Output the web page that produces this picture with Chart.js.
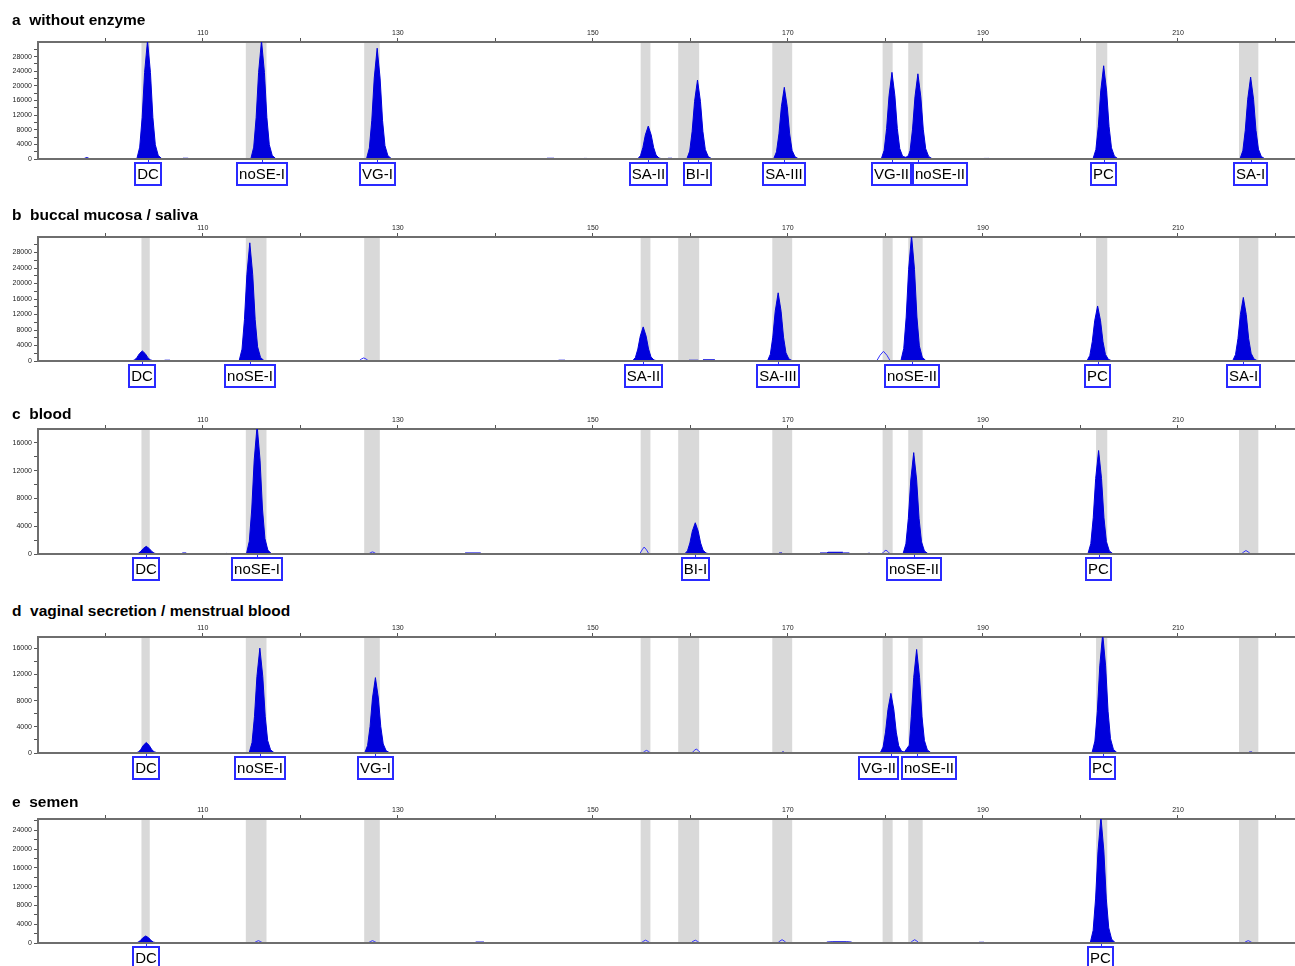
<!DOCTYPE html>
<html>
<head>
<meta charset="utf-8">
<script src="https://cdn.jsdelivr.net/npm/chart.js@4.4.1/dist/chart.umd.min.js"></script>
<style>
  html, body { margin: 0; padding: 0; background: #fff; }
  body { width: 1295px; height: 966px; position: relative; overflow: hidden; font-family: Arial, "Liberation Sans", sans-serif; }
  .ttl { position: absolute; left: 12px; font-weight: bold; font-size: 15.5px; line-height: 18px; color: #000; white-space: pre; z-index: 2; }
  canvas { position: absolute; left: 0; }
</style>
</head>
<body>
<script>
// size axis (bp) and panel data
const xMin = 93.1, xMax = 222;
const xTickMarks = [100, 110, 120, 130, 140, 150, 160, 170, 180, 190, 200, 210, 220];
const xTickLabels = [110, 130, 150, 170, 190, 210];
const panelTitles = ['a  without enzyme', 'b  buccal mucosa / saliva', 'c  blood', 'd  vaginal secretion / menstrual blood', 'e  semen'];
const yMax = [32000, 32000, 18000, 17700, 26400];
const yMinorStep = 2000, yLabelStep = 4000;

// marker bins (grey bands)
const binStart = [103.71, 114.41, 126.55, 154.9, 158.75, 168.4, 179.71, 182.34, 201.6, 216.26];
const binEnd   = [104.56, 116.53, 128.15, 155.9, 160.9, 170.44, 180.74, 183.82, 202.75, 218.24];

// traces: [size, RFU]
const traceA = [
  [93.1,0],
  [97.7,0],[98.1,400],[98.5,0],
  [103.23,0],[103.53,3240],[103.78,11340],[104.03,23650],[104.33,32400],[104.63,23650],[104.88,11340],[105.13,3890],[105.43,970],[105.83,0],
  [107.9,0],[108.0,200],[108.5,200],[108.6,0],
  [114.92,0],[115.22,3240],[115.47,11340],[115.72,23650],[116.02,32400],[116.32,23650],[116.57,11340],[116.82,3890],[117.12,970],[117.52,0],
  [126.78,0],[127.08,3030],[127.33,10600],[127.58,22120],[127.88,30300],[128.18,22120],[128.43,10600],[128.68,3640],[128.98,910],[129.38,0],
  [145.2,0],[145.3,200],[146.0,200],[146.1,0],
  [149.0,0],[149.1,150],[149.4,150],[149.5,0],
  [154.58,0],[154.88,900],[155.13,3150],[155.38,6570],[155.68,9000],[155.98,6570],[156.23,3150],[156.48,1080],[156.78,270],[157.18,0],
  [157.6,0],[157.7,200],[158.1,200],[158.2,0],
  [159.63,0],[159.93,2160],[160.18,7560],[160.43,15770],[160.73,21600],[161.03,15770],[161.28,7560],[161.53,2590],[161.83,650],[162.23,0],
  [168.53,0],[168.83,1960],[169.08,6860],[169.33,14310],[169.63,19600],[169.93,14310],[170.18,6860],[170.43,2350],[170.73,590],[171.13,0],
  [179.57,0],[179.87,2370],[180.12,8300],[180.37,17300],[180.67,23700],[180.97,17300],[181.22,8300],[181.47,2840],[181.77,710],[182.1,450],
  [182.35,900],[182.53,2330],[182.78,8160],[183.03,17010],[183.33,23300],[183.63,17010],[183.88,8160],[184.13,2800],[184.43,700],[184.83,0],
  [190.0,0],[190.1,150],[190.6,150],[190.7,0],
  [201.28,0],[201.58,2550],[201.83,8930],[202.08,18620],[202.38,25500],[202.68,18620],[202.93,8930],[203.18,3060],[203.48,770],[203.88,0],
  [216.35,0],[216.65,2240],[216.9,7840],[217.15,16350],[217.45,22400],[217.75,16350],[218.0,7840],[218.25,2690],[218.55,670],[218.95,0],
  [222,0]
];
const outlineA = [];

const traceB = [
  [93.1,0],
  [102.7,0],[103.0,260],[103.25,910],[103.5,1900],[103.8,2600],[104.1,1900],[104.35,910],[104.6,310],[104.9,80],[105.3,0],
  [106.0,0],[106.1,200],[106.6,200],[106.7,0],
  [113.72,0],[114.02,3050],[114.27,10680],[114.52,22270],[114.82,30500],[115.12,22270],[115.37,10680],[115.62,3660],[115.92,920],[116.32,0],
  [146.4,0],[146.5,200],[147.1,200],[147.2,0],
  [154.06,0],[154.36,880],[154.61,3080],[154.86,6420],[155.16,8800],[155.46,6420],[155.71,3080],[155.96,1060],[156.26,260],[156.66,0],
  [159.8,0],[159.9,200],[160.8,200],[160.9,0],
  [161.2,0],[161.3,300],[162.5,300],[162.6,0],
  [167.9,0],[168.2,1760],[168.45,6160],[168.7,12850],[169.0,17600],[169.3,12850],[169.55,6160],[169.8,2110],[170.1,530],[170.5,0],
  [181.58,0],[181.88,3240],[182.13,11340],[182.38,23650],[182.68,32400],[182.98,23650],[183.23,11340],[183.48,3890],[183.78,970],[184.18,0],
  [200.66,0],[200.96,1420],[201.21,4970],[201.46,10370],[201.76,14200],[202.06,10370],[202.31,4970],[202.56,1700],[202.86,430],[203.26,0],
  [215.6,0],[215.9,1640],[216.15,5740],[216.4,11970],[216.7,16400],[217.0,11970],[217.25,5740],[217.5,1970],[217.8,490],[218.2,0],
  [222,0]
];
const outlineB = [
  [93.1,0],
  [126.0,0],[126.25,500],[126.5,800],[126.75,500],[127.0,0],
  [179.1,0],[179.45,1500],[179.8,2500],[180.15,1500],[180.5,0],
  [222,0]
];

const traceC = [
  [93.1,0],
  [103.1,0],[103.4,110],[103.65,390],[103.9,800],[104.2,1100],[104.5,800],[104.75,390],[105.0,130],[105.3,30],[105.7,0],
  [107.8,0],[107.9,150],[108.3,150],[108.4,0],
  [112.3,0],[112.4,100],[112.5,0],
  [114.47,0],[114.77,1850],[115.02,6480],[115.27,13510],[115.57,18500],[115.87,13510],[116.12,6480],[116.37,2220],[116.67,560],[117.07,0],
  [136.8,0],[136.9,150],[138.5,150],[138.6,0],
  [159.4,0],[159.7,450],[159.95,1580],[160.2,3290],[160.5,4500],[160.8,3290],[161.05,1580],[161.3,540],[161.6,140],[162.0,0],
  [169.0,0],[169.1,150],[169.4,150],[169.5,0],
  [173.2,0],[173.3,150],[174.0,150],[174.1,250],[175.6,250],[175.7,150],[176.3,150],[176.4,0],
  [178.1,0],[178.2,100],[178.4,100],[178.5,0],
  [181.8,0],[182.1,1460],[182.35,5110],[182.6,10660],[182.9,14600],[183.2,10660],[183.45,5110],[183.7,1750],[184.0,440],[184.4,0],
  [200.76,0],[201.06,1490],[201.31,5220],[201.56,10880],[201.86,14900],[202.16,10880],[202.41,5220],[202.66,1790],[202.96,450],[203.36,0],
  [222,0]
];
const outlineC = [
  [93.1,0],
  [127.0,0],[127.2,200],[127.4,300],[127.6,200],[127.8,0],
  [154.8,0],[155.05,600],[155.26,1000],[155.5,600],[155.75,0],
  [179.6,0],[179.85,350],[180.05,550],[180.25,350],[180.5,0],
  [216.5,0],[216.75,300],[216.97,500],[217.2,300],[217.45,0],
  [222,0]
];

const traceD = [
  [93.1,0],
  [103.1,0],[103.4,160],[103.65,560],[103.9,1170],[104.2,1600],[104.5,1170],[104.75,560],[105.0,190],[105.3,50],[105.7,0],
  [114.75,0],[115.05,1600],[115.3,5600],[115.55,11680],[115.85,16000],[116.15,11680],[116.4,5600],[116.65,1920],[116.95,480],[117.35,0],
  [126.6,0],[126.9,1150],[127.15,4030],[127.4,8400],[127.7,11500],[128.0,8400],[128.25,4030],[128.5,1380],[128.8,350],[129.2,0],
  [169.3,0],[169.4,150],[169.6,150],[169.7,0],
  [179.46,0],[179.76,910],[180.01,3190],[180.26,6640],[180.56,9100],[180.86,6640],[181.11,3190],[181.36,1090],[181.66,270],[181.95,150],
  [182.2,700],[182.45,1200],[182.65,5530],[182.9,11530],[183.2,15800],[183.5,11530],[183.75,5530],[184.0,1900],[184.3,470],[184.7,0],
  [201.18,0],[201.48,1820],[201.73,6370],[201.98,13290],[202.28,18200],[202.58,13290],[202.83,6370],[203.08,2180],[203.38,550],[203.78,0],
  [217.2,0],[217.3,150],[217.6,150],[217.7,0],
  [222,0]
];
const outlineD = [
  [93.1,0],
  [155.1,0],[155.3,250],[155.5,400],[155.7,250],[155.9,0],
  [160.15,0],[160.4,400],[160.6,600],[160.8,400],[161.05,0],
  [222,0]
];

const traceE = [
  [93.1,0],
  [103.05,0],[103.35,150],[103.6,530],[103.85,1100],[104.15,1500],[104.45,1100],[104.7,530],[104.95,180],[105.25,50],[105.65,0],
  [137.9,0],[138.0,200],[138.8,200],[138.9,0],
  [173.9,0],[174.0,200],[174.6,250],[176.0,250],[176.5,200],[176.6,0],
  [189.5,0],[189.6,150],[190.1,150],[190.2,0],
  [201.0,0],[201.3,2680],[201.55,9380],[201.8,19560],[202.1,26800],[202.4,19560],[202.65,9380],[202.9,3220],[203.2,800],[203.6,0],
  [222,0]
];
const outlineE = [
  [93.1,0],
  [115.25,0],[115.48,300],[115.7,500],[115.92,300],[116.15,0],
  [126.95,0],[127.18,300],[127.4,500],[127.62,300],[127.85,0],
  [154.95,0],[155.18,360],[155.4,600],[155.62,360],[155.85,0],
  [160.05,0],[160.28,360],[160.5,600],[160.72,360],[160.95,0],
  [168.95,0],[169.18,420],[169.4,700],[169.62,420],[169.85,0],
  [182.55,0],[182.78,420],[183.0,700],[183.22,420],[183.45,0],
  [216.75,0],[216.98,300],[217.2,500],[217.42,300],[217.65,0],
  [222,0]
];

// called markers: name, peak position, label box position (bp)
const namesA = ['DC','noSE-I','VG-I','SA-II','BI-I','SA-III','VG-II','noSE-II','PC','SA-I'];
const posA   = [104.33,116.02,127.88,155.68,160.73,169.63,180.67,183.33,202.38,217.45];
const boxA   = [104.33,116.02,127.88,155.68,160.73,169.63,180.67,185.6,202.38,217.45];
const namesB = ['DC','noSE-I','SA-II','SA-III','noSE-II','PC','SA-I'];
const posB   = [103.8,114.82,155.16,169.0,182.68,201.76,216.7];
const namesC = ['DC','noSE-I','BI-I','noSE-II','PC'];
const posC   = [104.2,115.57,160.5,182.9,201.86];
const namesD = ['DC','noSE-I','VG-I','VG-II','noSE-II','PC'];
const posD   = [104.2,115.85,127.7,180.56,183.2,202.28];
const boxD   = [104.2,115.85,127.7,179.3,184.5,202.28];
const namesE = ['DC','PC'];
const posE   = [104.15,202.1];

// page geometry of each panel (px): title centre, top axis line, baseline
const panelLayout = [
  { title: 20,  axis: 42,  base: 159 },
  { title: 215, axis: 237, base: 361 },
  { title: 414, axis: 429, base: 554 },
  { title: 611, axis: 637, base: 753 },
  { title: 802, axis: 819, base: 943 }
];

const FONT = 'Arial, "Liberation Sans", sans-serif';
const peakBlue = '#0000dc';
const axisGrey = '#6e6e6e';

// hide the trace where it just runs along the baseline
const flatSeg = ctx => (ctx.p0.parsed.y === 0 && ctx.p1.parsed.y === 0) ? 'rgba(0,0,0,0)' : undefined;

const ephPlugin = {
  id: 'eph',
  beforeDatasetsDraw(chart) {
    const { ctx, chartArea: a, scales: { x } } = chart;
    ctx.save();
    ctx.fillStyle = '#d9d9d9';
    binStart.forEach((s, i) => {
      const x0 = x.getPixelForValue(s), x1 = x.getPixelForValue(binEnd[i]);
      ctx.fillRect(x0, a.top + 1, x1 - x0, a.bottom - a.top - 1);
    });
    ctx.restore();
  },
  afterDatasetsDraw(chart) {
    const { ctx, chartArea: a } = chart;
    ctx.save();
    ctx.strokeStyle = axisGrey;
    ctx.lineWidth = 2;
    ctx.beginPath();
    ctx.moveTo(a.left, a.bottom);
    ctx.lineTo(a.right, a.bottom);
    ctx.stroke();
    ctx.restore();
  },
  afterDraw(chart, args, opts) {
    const { ctx, chartArea: a, scales: { x } } = chart;
    ctx.save();
    ctx.font = '15px ' + FONT;
    ctx.textAlign = 'center';
    ctx.textBaseline = 'middle';
    opts.names.forEach((name, i) => {
      const px = Math.round(x.getPixelForValue(opts.pos[i])) + 0.5;
      const bx = x.getPixelForValue(opts.box[i]);
      const w = Math.round(ctx.measureText(name).width + 4);
      const top = a.bottom + 4;
      const left = Math.round(bx - w / 2);
      ctx.strokeStyle = '#2a2aff';
      ctx.lineWidth = 1;
      ctx.beginPath();
      ctx.moveTo(px, a.bottom + 1);
      ctx.lineTo(px, top);
      ctx.stroke();
      ctx.fillStyle = '#fff';
      ctx.fillRect(left, top, w, 22);
      ctx.lineWidth = 2;
      ctx.strokeRect(left, top, w, 22);
      ctx.fillStyle = '#000';
      ctx.fillText(name, left + w / 2, top + 12);
    });
    ctx.restore();
  }
};

function makePanel(i, trace, outline, names, pos, box) {
  const L = panelLayout[i];
  const title = document.createElement('div');
  title.className = 'ttl';
  title.style.top = (L.title - 9) + 'px';
  title.textContent = panelTitles[i];
  document.body.appendChild(title);

  const cv = document.createElement('canvas');
  const top = L.axis - 14;
  cv.width = 1295;
  cv.height = L.base + 30 - top;
  cv.style.top = top + 'px';
  document.body.appendChild(cv);

  const max = yMax[i];
  new Chart(cv, {
    type: 'line',
    data: {
      datasets: [
        {
          data: trace.map(p => ({ x: p[0], y: p[1] })),
          fill: 'origin',
          backgroundColor: peakBlue,
          borderColor: peakBlue,
          borderWidth: 1,
          pointRadius: 0,
          segment: { borderColor: flatSeg }
        },
        {
          data: outline.map(p => ({ x: p[0], y: p[1] })),
          fill: false,
          borderColor: '#3030ff',
          borderWidth: 1,
          pointRadius: 0,
          segment: { borderColor: flatSeg }
        }
      ]
    },
    options: {
      responsive: false,
      animation: false,
      layout: { padding: { left: 0, right: 0, top: 0, bottom: 30 } },
      plugins: {
        legend: { display: false },
        tooltip: { enabled: false },
        eph: { names: names, pos: pos, box: box || pos }
      },
      scales: {
        x: {
          type: 'linear',
          position: 'top',
          min: xMin,
          max: xMax,
          afterFit: s => { s.height = 14; },
          afterBuildTicks: s => { s.ticks = xTickMarks.map(v => ({ value: v })); },
          ticks: {
            autoSkip: false,
            maxRotation: 0,
            padding: 1,
            color: '#222',
            font: { family: FONT, size: 7 },
            callback: v => xTickLabels.includes(v) ? String(v) : ''
          },
          grid: { drawOnChartArea: false, drawTicks: true, tickLength: 4, color: '#555' },
          border: { color: axisGrey, width: 2 }
        },
        y: {
          min: 0,
          max: max,
          afterFit: s => { s.width = 38; },
          afterBuildTicks: s => {
            const t = [];
            for (let v = 0; v < max; v += yMinorStep) t.push({ value: v });
            s.ticks = t;
          },
          ticks: {
            autoSkip: false,
            padding: 2,
            color: '#222',
            font: { family: FONT, size: 7 },
            callback: v => (v % yLabelStep === 0) ? String(v) : ''
          },
          grid: { drawOnChartArea: false, drawTicks: true, tickLength: 4, color: '#555' },
          border: { color: axisGrey, width: 2 }
        }
      }
    },
    plugins: [ephPlugin]
  });
}

makePanel(0, traceA, outlineA, namesA, posA, boxA);
makePanel(1, traceB, outlineB, namesB, posB);
makePanel(2, traceC, outlineC, namesC, posC);
makePanel(3, traceD, outlineD, namesD, posD, boxD);
makePanel(4, traceE, outlineE, namesE, posE);
</script>
</body>
</html>
